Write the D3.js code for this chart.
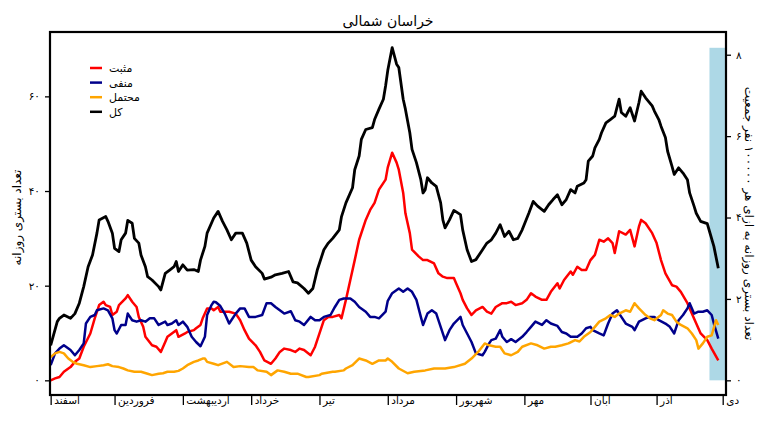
<!DOCTYPE html>
<html><head><meta charset="utf-8">
<script src="https://cdn.jsdelivr.net/npm/d3@7"></script>
<style>
html,body{margin:0;padding:0;background:#fff;}
text{font-family:"DejaVu Sans",sans-serif;}
</style></head>
<body><svg id="c" width="766" height="430"></svg>
<script>
// ---- data (day index counted from 1 Esfand 1398) ----
const monthNames = ["اسفند","فروردین","اردیبهشت","خرداد","تیر","مرداد","شهریور","مهر","آبان","آذر","دی"];
const monthStartDays = [0,29,60,91,122,153,184,215,245,275,305];
const leftTicks = [0,20,40,60];
const leftTickLabels = ["۰","۲۰","۴۰","۶۰"];
const rightTicks = [0,2,4,6,8];
const rightTickLabels = ["۰","۲","۴","۶","۸"];
const seriesNames = ["مثبت","منفی","محتمل","کل"];
const populationPer100k = 8.6;
const shadedFromDay = 299;
const shadedHeight = 8.17;

const positive = [[0,0],[2,0.4],[4,0.7],[6,1.8],[9,2.8],[11,3.9],[13,4.6],[15,7.1],[18,9.9],[20,13.1],[22,15.9],[24,16.6],[25,15.9],[27,15.5],[28,13.8],[30,14.5],[31,15.9],[34,17.3],[35,18],[37,16.6],[39,15.5],[40,13.4],[42,11.3],[43,9.2],[46,7.4],[48,7.1],[50,6],[52,8.1],[53,9.2],[55,9.9],[57,10.6],[58,9.2],[61,9.9],[62,10.2],[65,10.6],[66,11],[68,11.7],[69,13.1],[71,15.2],[73,15.2],[74,14.8],[76,15.5],[77,14.5],[81,14.5],[84,14.1],[86,12.7],[88,10.6],[90,8.8],[93,7.4],[95,6],[97,4.2],[100,3.5],[102,4.6],[104,6],[106,6.7],[109,6.4],[111,6],[113,6.7],[115,6.4],[118,5.3],[120,7.1],[122,9.9],[124,12.7],[126,13.4],[128,13.4],[131,13.8],[132,13.1],[134,17],[136,21.2],[138,25.4],[140,29.7],[143,33.9],[145,36],[147,37.5],[149,40.3],[152,42.4],[153,45],[155,48.1],[157,46],[158,44.5],[160,39.6],[161,35.3],[163,31.1],[164,27.6],[167,26.2],[169,25.4],[171,25.4],[174,24.7],[176,22.6],[178,21.9],[180,21.6],[183,21.6],[184,20.5],[186,18.4],[187,17],[189,15.2],[191,13.8],[193,14.8],[196,15.5],[198,14.5],[200,14.1],[202,15.5],[205,16.3],[207,16.3],[209,16.6],[211,15.9],[214,16.3],[216,17],[218,18.4],[220,17.7],[223,17],[225,17],[227,18.7],[230,20.5],[231,19.4],[233,21.2],[236,23],[237,22.3],[239,24],[241,23.3],[243,23.3],[245,25.4],[247,26.5],[249,29.7],[251,29.3],[253,30],[255,29],[256,26.9],[258,31.5],[261,30.8],[263,31.8],[265,28.3],[267,32.5],[268,33.9],[270,33.2],[273,31.1],[275,29],[277,25.4],[279,22.6],[282,20.1],[284,19.8],[286,18.7],[289,16.3],[291,14.1],[293,12],[295,9.9],[298,8.5],[300,6.7],[303,4.2]];

const negative = [[0,3.2],[2,5.7],[4,6.7],[6,7.4],[9,6.4],[11,5.3],[13,6.4],[15,7.8],[16,12],[18,13.4],[20,13.8],[21,14.8],[24,15.2],[26,14.8],[28,13.1],[29,10.6],[30,9.9],[32,11.7],[34,11.7],[35,14.1],[37,12.7],[39,12.4],[41,12.7],[43,12.4],[45,13.1],[47,13.1],[49,11.7],[52,12.4],[53,11.7],[55,12],[57,12.7],[58,11.7],[60,12.4],[62,11.3],[64,9.2],[66,8.1],[68,7.2],[70,9.2],[71,13.8],[73,15.9],[74,16.6],[75,16.5],[77,15.7],[79,14.1],[81,12],[84,14.1],[86,15.2],[88,15.2],[90,13.4],[93,13.4],[96,13.8],[98,16.3],[100,16.3],[102,15.5],[104,14.8],[106,14.1],[109,14.6],[111,12.7],[113,12.4],[115,11.7],[118,13.4],[120,12.7],[122,12.7],[124,13.4],[127,13.8],[129,15.5],[131,17],[133,17.3],[136,17.3],[138,16.6],[140,15.5],[143,14.5],[145,13.4],[147,13.4],[149,13.1],[152,14.5],[153,16.8],[155,18.4],[158,19.4],[160,18.7],[162,19.4],[164,18.7],[166,17],[168,13.4],[169,11.7],[171,14.1],[173,14.8],[175,14.1],[177,11.3],[179,8.5],[181,10.6],[183,12],[186,13.4],[187,11.7],[189,9.9],[191,8.1],[193,5.7],[196,5.3],[197,6],[199,7.8],[200,8.5],[202,8.8],[204,10.6],[205,9.2],[207,8.1],[209,8.7],[211,8.1],[214,9.2],[216,10.2],[218,11.3],[220,12.4],[223,11.7],[225,12.7],[227,12],[230,11.5],[232,10.2],[234,9.9],[236,9.2],[239,9.2],[241,9.9],[243,11],[245,11.3],[246,10.6],[249,9.9],[251,9.5],[253,12],[255,14.1],[257,14.8],[259,13.4],[261,12],[264,11.3],[265,10.6],[267,12.4],[270,13.1],[272,13.4],[274,13.4],[276,12.7],[279,12],[281,11.3],[283,9.9],[285,12.7],[287,13.8],[289,15.2],[290,16.3],[292,14.1],[294,14.5],[296,14.5],[298,14.8],[300,13.8],[301,12],[303,8.8]];

const probable = [[0,4.9],[2,5.7],[4,6],[6,5.7],[8,4.6],[10,3.9],[12,3.5],[15,3.2],[18,2.8],[21,3],[24,3.2],[26,3.4],[28,3],[31,2.8],[33,2.5],[35,2.1],[38,1.8],[41,1.8],[44,1.4],[46,1.1],[49,1.4],[51,1.5],[53,1.8],[56,1.8],[58,2],[60,2.5],[62,3.2],[65,3.9],[67,4.2],[69,4.6],[70,4.6],[71,3.9],[74,3.5],[76,3.2],[80,3.9],[83,2.8],[86,3],[90,2.8],[92,2.8],[94,2.1],[98,1.8],[100,1.1],[103,2.1],[106,1.8],[109,1.4],[112,1.4],[116,0.7],[117,0.7],[122,1.1],[123,1.4],[128,1.8],[129,1.8],[133,2.1],[134,2.5],[137,3.2],[140,4.6],[143,4.2],[146,3.5],[149,4.2],[152,4.2],[153,4.6],[155,3.9],[158,2.5],[162,1.5],[165,1.8],[170,2.1],[174,2.5],[179,2.5],[183,2.8],[188,3.5],[191,4.6],[194,6],[197,7.8],[199,7.4],[202,7.1],[204,7.1],[206,5.7],[209,5.3],[212,6],[214,7.1],[218,7.8],[221,7.4],[224,6.7],[227,7.1],[229,7.1],[232,7.4],[235,7.8],[238,8.5],[240,8.2],[242,9.2],[245,10.2],[247,11.3],[249,12.4],[252,13.1],[254,13.8],[256,13.4],[258,14.1],[261,14.8],[263,14.5],[265,16.3],[267,15.2],[270,13.8],[272,13.1],[274,12.7],[277,13.8],[278,14.8],[280,14.1],[282,13.8],[284,12.4],[286,11.7],[289,11],[291,9.9],[293,8.5],[294,6.7],[296,7.8],[298,9.2],[300,9.5],[302,12.7],[303,11.7]];

const total = [[0,7.4],[3,12.4],[4,13.1],[6,13.8],[9,13.1],[11,14.1],[13,16.3],[15,19.8],[17,24],[19,26.5],[21,31.1],[22,33.9],[25,34.6],[26,33.6],[28,31.1],[29,27.9],[31,27.2],[32,29.7],[34,31.1],[35,33.8],[37,33.2],[38,30],[40,29],[41,26.5],[43,24],[44,21.9],[46,21.2],[49,19.8],[50,19.1],[52,22.6],[54,23.3],[56,24],[57,25.1],[58,23],[60,24.4],[62,23.3],[65,23.4],[67,23],[68,25.4],[70,28.3],[71,31.1],[74,34.3],[76,35.7],[78,33.6],[80,31.8],[82,29.7],[84,31.1],[87,31.1],[89,29],[91,25.4],[93,24],[96,22.6],[97,21.4],[100,21.8],[102,22.3],[105,22.6],[108,23],[110,20.8],[112,20.6],[115,19.4],[117,18.4],[119,19.4],[121,23.3],[124,27.6],[126,29],[128,30],[131,31.8],[132,34.6],[134,37.5],[137,40.7],[138,44.5],[140,47.4],[141,50.9],[143,53],[146,53.4],[147,55.1],[149,57.3],[151,59.4],[152,62.2],[153,65.5],[155,70.3],[157,66.8],[158,66.1],[160,59.4],[161,57.3],[163,52.3],[164,48.8],[166,46],[168,42.4],[169,39.6],[170,40.3],[171,42.8],[173,41.7],[175,41],[177,37.5],[178,33.9],[179,32.2],[181,33.9],[183,35.9],[186,35],[187,31.8],[189,27.6],[191,25.1],[193,25.5],[196,27.6],[198,29],[200,29.7],[202,31.1],[204,32.9],[206,30.4],[208,31.5],[210,29.7],[212,30],[214,31.8],[217,35.3],[219,37.8],[221,36.8],[224,35.7],[226,37.1],[228,38.2],[230,39.2],[232,37.1],[234,38.2],[236,40.3],[238,39.6],[239,41],[242,41.7],[243,42.4],[244,46.3],[246,47.4],[247,49.1],[249,50.9],[250,52.3],[252,54.4],[254,55.1],[256,55.8],[257,57.6],[258,59.4],[259,56.6],[261,55.8],[263,57.6],[265,54.8],[267,58.7],[268,61.1],[270,59.7],[273,58],[274,56.9],[276,55.1],[277,53.7],[279,51.3],[280,48.4],[282,45.2],[283,43.5],[285,44.9],[287,43.8],[289,42.4],[290,39.6],[292,36.8],[293,35.3],[295,33.6],[298,33.1],[299,31.5],[301,28.3],[303,23.7]];

const seriesData = [positive, negative, probable, total];
const seriesColors = ["#ff0000","#00008b","#ffa500","#000000"];

// ---- layout ----
const svg = d3.select("#c");
const L = 50, R = 726, T = 32, B = 395;
const x = d3.scaleLinear().domain([-0.3, 306.5]).range([L, R]);
const yL = d3.scaleLinear().domain([-3.1, 73.6]).range([B, T]);
const yR = d3.scaleLinear().domain([-3.1/populationPer100k, 73.6/populationPer100k]).range([B, T]);

// shaded band (right axis units)
svg.append("rect")
  .attr("x", x(shadedFromDay)).attr("y", yR(shadedHeight))
  .attr("width", R - x(shadedFromDay)).attr("height", yR(0) - yR(shadedHeight))
  .attr("fill", "#add8e6");

// lines
const line = d3.line().x(d => x(d[0])).y(d => yL(d[1]));
seriesData.forEach((s, i) => {
  svg.append("path").datum(s).attr("d", line)
    .attr("fill", "none").attr("stroke", seriesColors[i])
    .attr("stroke-width", i === 3 ? 2.8 : 2.5)
    .attr("stroke-linejoin", "round").attr("stroke-linecap", "butt");
});

// axes
const axL = svg.append("g").attr("transform", `translate(${L},0)`)
  .call(d3.axisLeft(yL).tickValues(leftTicks).tickFormat((d,i) => leftTickLabels[i]).tickSize(5).tickPadding(5));
const axR = svg.append("g").attr("transform", `translate(${R},0)`)
  .call(d3.axisRight(yR).tickValues(rightTicks).tickFormat((d,i) => rightTickLabels[i]).tickSize(5).tickPadding(5));
const axB = svg.append("g").attr("transform", `translate(0,${B})`)
  .call(d3.axisBottom(x).tickValues(monthStartDays).tickFormat((d,i) => monthNames[i]).tickSize(10).tickPadding(0));
[axL, axR, axB].forEach(a => {
  a.select(".domain").remove();
  a.selectAll(".tick line").attr("stroke", "#000").attr("stroke-width", 1.3);
  a.selectAll(".tick text").attr("fill", "#000").style("font-family", '"DejaVu Sans",sans-serif').style("font-size", "10.5px");
});
axB.selectAll(".tick text").attr("text-anchor", "start").attr("x", 3).attr("y", 2).attr("dy", "0.71em").style("font-size", "10.5px");

// frame
svg.append("rect").attr("x", L).attr("y", T).attr("width", R - L).attr("height", B - T)
  .attr("fill", "none").attr("stroke", "#000").attr("stroke-width", 2.2);

// title
svg.append("text").attr("x", (L + R) / 2).attr("y", 26).attr("text-anchor", "middle")
  .style("font-size", "14px").text("خراسان شمالی");

// axis titles
svg.append("text").attr("transform", `translate(21,${(T + B) / 2 + 4}) rotate(-90)`)
  .attr("text-anchor", "middle").style("font-size", "12px").text("تعداد بستری روزانه");
svg.append("text").attr("transform", `translate(745,${(T + B) / 2}) rotate(90)`)
  .attr("text-anchor", "middle").style("font-size", "12px").text("تعداد بستری روزانه به ازای هر ۱۰۰۰۰۰ نفر جمعیت");

// legend
const lg = svg.append("g");
seriesNames.forEach((n, i) => {
  const yy = 68 + i * 14.6;
  lg.append("line").attr("x1", 90).attr("x2", 102).attr("y1", yy).attr("y2", yy)
    .attr("stroke", seriesColors[i]).attr("stroke-width", 2.5);
  lg.append("text").attr("x", 109).attr("y", yy + 4).attr("text-anchor", "start")
    .style("font-size", "11px").text(n);
});
</script></body></html>
